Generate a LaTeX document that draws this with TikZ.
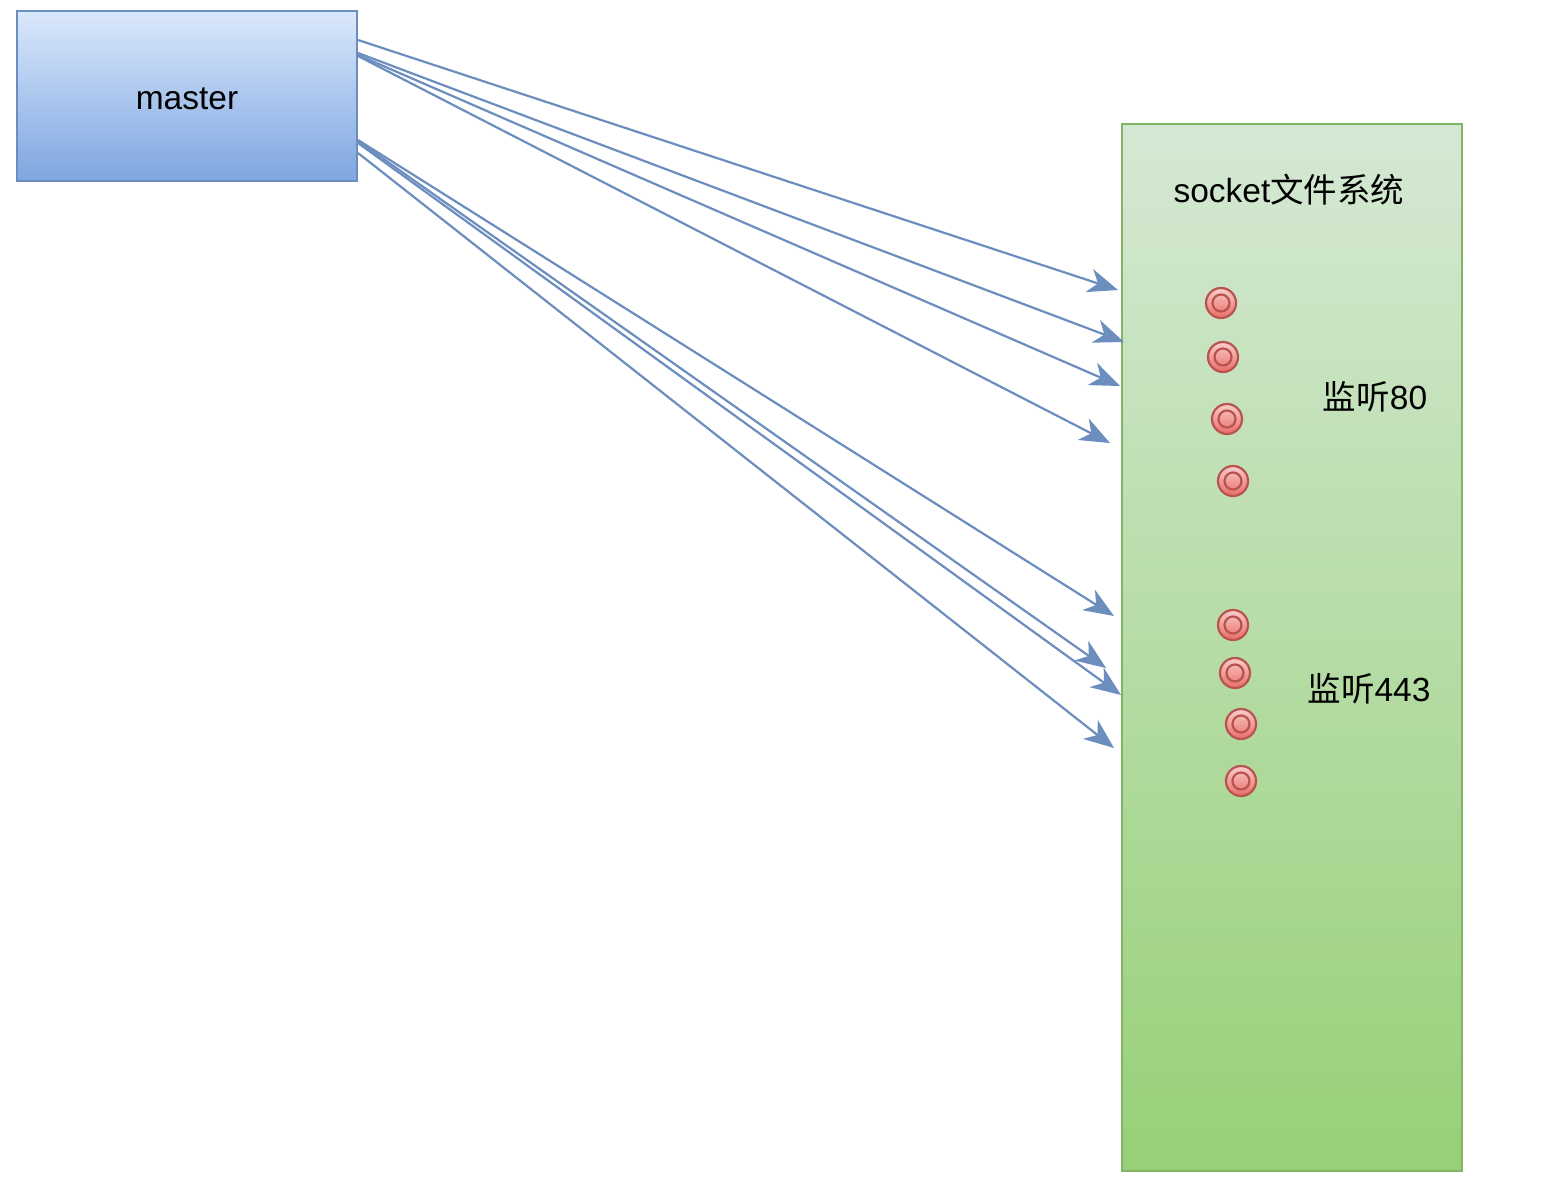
\documentclass[tikz,border=0pt]{standalone}
\usepackage{fontspec}
\setmainfont{Liberation Sans}
\newfontfamily\cjk{Noto Sans CJK SC}
\usetikzlibrary{arrows.meta}
\definecolor{bluestroke}{HTML}{6C8EBF}
\definecolor{bluetop}{HTML}{DAE8FC}
\definecolor{bluebot}{HTML}{7EA6E0}
\definecolor{greenstroke}{HTML}{82B366}
\definecolor{greentop}{HTML}{D5E8D4}
\definecolor{greenbot}{HTML}{97D077}
\definecolor{redstroke}{HTML}{B85450}
\definecolor{redtop}{HTML}{F8CECC}
\definecolor{redbot}{HTML}{EA6B66}
\tikzset{
  masterbox/.style={draw=bluestroke, line width=2pt, top color=bluetop, bottom color=bluebot,
    minimum width=340pt, minimum height=170pt, inner sep=0pt, text height=28pt, text depth=0pt,
    font=\fontsize{33.5}{40}\selectfont},
  fsbox/.style={draw=greenstroke, line width=2pt, top color=greentop, bottom color=greenbot,
    minimum width=340pt, minimum height=1047pt, inner sep=0pt},
  lbl/.style={inner sep=0pt, font=\fontsize{33.5}{40}\selectfont},
  port/.style={circle, draw=redstroke, line width=2.2pt, top color=redtop, bottom color=redbot,
    minimum size=30pt, inner sep=0pt,
    path picture={\draw[redstroke, line width=2.2pt] (path picture bounding box.center) circle (8.5pt);}},
  arr/.style={draw=bluestroke, line width=2.2pt,
    -{Stealth[length=30pt, width=24pt, inset=9pt]}}
}
\begin{document}
\begin{tikzpicture}[x=1pt,y=-1pt]
\useasboundingbox[fill=white] (0,0) rectangle (1566,1196);
\node[masterbox] (master) at (187,96) {master};
\node[fsbox] (fs) at (1292,647.5) {};
\node[lbl] (title) at (1289,190) {socket{\cjk 文件系统}};
\node[lbl] (l80) at (1375,397) {{\cjk 监听}80};
\node[lbl] (l443) at (1369,689) {{\cjk 监听}443};
\node[port] (p1) at (1221,303) {};
\node[port] (p2) at (1223,357) {};
\node[port] (p3) at (1227,419) {};
\node[port] (p4) at (1233,481) {};
\node[port] (p5) at (1233,625) {};
\node[port] (p6) at (1235,673) {};
\node[port] (p7) at (1241,724) {};
\node[port] (p8) at (1241,781) {};
\coordinate (s1) at (358,40);
\coordinate (s2) at (358,53);
\coordinate (s3) at (358,55);
\coordinate (s4) at (358,56);
\coordinate (s5) at (358,140);
\coordinate (s6) at (358,141);
\coordinate (s7) at (358,143);
\coordinate (s8) at (358,153);
\coordinate (e1) at (1118,290);
\coordinate (e2) at (1124,342);
\coordinate (e3) at (1120,386);
\coordinate (e4) at (1110,443);
\coordinate (e5) at (1114,616);
\coordinate (e6) at (1106,668);
\coordinate (e7) at (1121,695);
\coordinate (e8) at (1114,748);
\foreach \i in {1,...,8} {\draw[arr] (s\i) -- (e\i);}
\end{tikzpicture}
\end{document}
